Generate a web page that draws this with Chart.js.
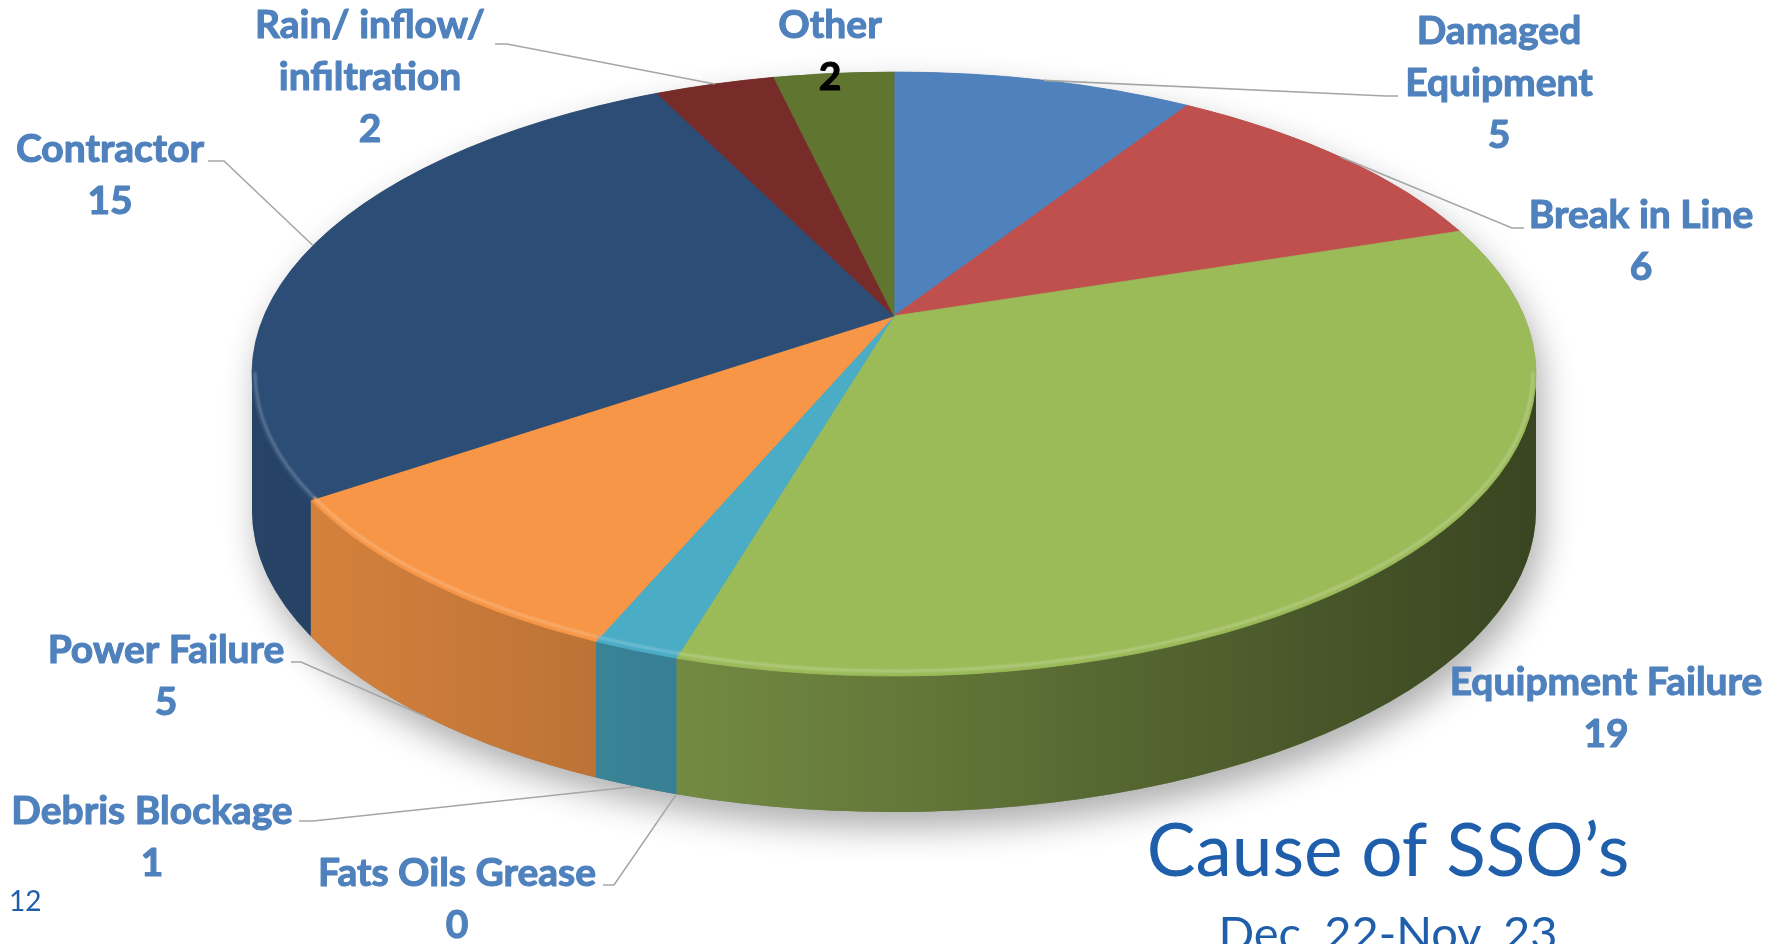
<!DOCTYPE html>
<html>
<head>
<meta charset="utf-8">
<title>Cause of SSO’s</title>
<script src="https://cdn.jsdelivr.net/npm/chart.js@4/dist/chart.umd.min.js"></script>
<style>
  html, body { margin: 0; padding: 0; background: #fff; overflow: hidden; }
  canvas { display: block; }
</style>
</head>
<body>
<canvas id="ssoChart" width="1783" height="944"></canvas>
<script>
// Categories (multi-line where the label wraps) and counts, clockwise from 12 o'clock
const causes = [
  ['Damaged', 'Equipment'],
  ['Break in Line'],
  ['Equipment Failure'],
  ['Fats Oils Grease'],
  ['Debris Blockage'],
  ['Power Failure'],
  ['Contractor'],
  ['Rain/ inflow/', 'infiltration'],
  ['Other']
];
const counts = [5, 6, 19, 0, 1, 5, 15, 2, 2];
const sliceColors = ['#4F81BD', '#C0504D', '#9BBB59', '#8064A2', '#4BACC6', '#F79646', '#2C4D75', '#772C2A', '#5F7530'];

const chartTitle = 'Cause of SSO’s';
const chartSubtitle = 'Dec. 22-Nov. 23';
const slideNumber = '12';

// 3D disc geometry: rim ellipse, wall height and perspective tilt
const PIE = { cx: 894, cy: 374, rx: 642, ry: 302, depth: 136, tilt: 0.192 };

// Where each data label sits (center x, first line y) and its leader knee/stub
const labelLayout = [
  { x: 1499, y: 31, leader: [[1386, 96], [1398, 96]] },
  { x: 1641, y: 215, leader: [[1512, 228], [1524, 228]] },
  { x: 1606, y: 682, leader: null },
  { x: 457, y: 873, leader: [[614, 885], [603, 885]] },
  { x: 152, y: 811, leader: [[313, 821], [299, 821]] },
  { x: 166, y: 650, leader: [[301, 662], [291, 662]] },
  { x: 110, y: 149, leader: [[224, 161], [208, 161]] },
  { x: 370, y: 25, leader: [[507, 44], [495, 44]] },
  { x: 830, y: 25, leader: null, valueColor: '#000000' }
];

const LABEL_COLOR = '#4F81BD';
const TITLE_COLOR = '#1E5EAB';
const LINE_HEIGHT = 52;

// Map a flat pie angle onto the tilted rim (unit ellipse coords)
function project(a) {
  const t = PIE.tilt;
  const u = Math.cos(a), v = Math.sin(a);
  const d = 1 - t * v;
  return { x: u * Math.sqrt(1 - t * t) / d, y: (v - t) / d };
}

function rimAngle(a) {
  const p = project(a);
  return Math.atan2(p.y, p.x);
}

function lighten(hex, k) {
  const n = parseInt(hex.slice(1), 16);
  const r = (n >> 16) & 255, g = (n >> 8) & 255, b = n & 255;
  const mix = c => Math.round(c + (255 - c) * k);
  return `rgb(${mix(r)}, ${mix(g)}, ${mix(b)})`;
}

// Slice spans on the rim, taken from the arc elements Chart.js laid out
function sliceSpans(chart) {
  const meta = chart.getDatasetMeta(0);
  return meta.data.map((arc, i) => {
    const { startAngle, endAngle } = arc.getProps(['startAngle', 'endAngle'], true);
    const ps = rimAngle(startAngle);
    let pe = rimAngle(endAngle);
    const empty = endAngle - startAngle < 1e-6;
    if (!empty) {
      while (pe <= ps) pe += Math.PI * 2;
    }
    return { i, startAngle, endAngle, ps, pe, empty, color: arc.options.backgroundColor };
  });
}

const pie3d = {
  id: 'pie3d',
  beforeDatasetsDraw(chart) {
    const ctx = chart.ctx;
    const { cx, cy, rx, ry, depth, tilt } = PIE;
    const spans = sliceSpans(chart);

    ctx.save();

    // soft drop shadow under the disc
    ctx.save();
    ctx.shadowColor = 'rgba(0, 0, 0, 0.32)';
    ctx.shadowBlur = 34;
    ctx.shadowOffsetX = 6;
    ctx.shadowOffsetY = 16;
    ctx.beginPath();
    ctx.ellipse(cx, cy, rx, ry, 0, Math.PI, Math.PI * 2);
    ctx.ellipse(cx, cy + depth, rx, ry, 0, 0, Math.PI);
    ctx.closePath();
    ctx.fillStyle = '#6b6b6b';
    ctx.fill();
    ctx.restore();

    // side walls, lit from the left
    const shade = ctx.createLinearGradient(cx - rx, 0, cx + rx, 0);
    shade.addColorStop(0, 'rgba(0, 0, 0, 0.12)');
    shade.addColorStop(0.35, 'rgba(0, 0, 0, 0.27)');
    shade.addColorStop(1, 'rgba(0, 0, 0, 0.63)');

    const frontParts = [];
    spans.forEach(s => {
      if (s.empty) return;
      for (let k = -1; k <= 1; k++) {
        const lo = Math.max(s.ps, Math.PI * 2 * k);
        const hi = Math.min(s.pe, Math.PI * 2 * k + Math.PI);
        if (hi <= lo) continue;
        frontParts.push({ lo, hi, color: s.color });
        ctx.beginPath();
        ctx.ellipse(cx, cy, rx, ry, 0, lo, hi);
        ctx.ellipse(cx, cy + depth, rx, ry, 0, hi, lo, true);
        ctx.closePath();
        ctx.fillStyle = s.color;
        ctx.fill();
        ctx.fillStyle = shade;
        ctx.fill();
      }
    });

    // top faces
    const apexY = cy - tilt * ry;
    spans.forEach(s => {
      if (s.empty) return;
      ctx.beginPath();
      ctx.moveTo(cx, apexY);
      ctx.ellipse(cx, cy, rx, ry, 0, s.ps, s.pe);
      ctx.closePath();
      ctx.fillStyle = s.color;
      ctx.fill();
      ctx.strokeStyle = s.color;
      ctx.lineWidth = 0.8;
      ctx.stroke();
    });

    // bevel highlight along the front rim
    ctx.save();
    ctx.filter = 'blur(1.2px)';
    frontParts.forEach(p => {
      ctx.beginPath();
      ctx.ellipse(cx, cy - 2, rx - 3, ry - 3, 0, p.lo, p.hi);
      ctx.strokeStyle = lighten(p.color, 0.25);
      ctx.lineWidth = 2.5;
      ctx.stroke();
    });
    ctx.restore();

    ctx.restore();
    return false;
  }
};

const sliceLabels = {
  id: 'sliceLabels',
  afterDraw(chart) {
    const ctx = chart.ctx;
    const { cx, cy, rx, ry, depth } = PIE;
    const spans = sliceSpans(chart);

    ctx.save();

    // leader lines from the rim to each label
    ctx.strokeStyle = '#A6A6A6';
    ctx.lineWidth = 1.6;
    spans.forEach(s => {
      const lay = labelLayout[s.i];
      if (!lay.leader) return;
      const p = project((s.startAngle + s.endAngle) / 2);
      const x = cx + rx * p.x;
      const y = cy + ry * p.y + (p.y > 0 ? depth : 0);
      ctx.beginPath();
      ctx.moveTo(x, y);
      lay.leader.forEach(pt => ctx.lineTo(pt[0], pt[1]));
      ctx.stroke();
    });

    // category + value text, with a thin outline for a heavier weight
    ctx.font = 'bold 39px Lato';
    ctx.textAlign = 'center';
    ctx.textBaseline = 'middle';
    ctx.lineWidth = 1.1;
    ctx.lineJoin = 'round';
    const drawText = (txt, x, y, color) => {
      ctx.fillStyle = color;
      ctx.strokeStyle = color;
      ctx.fillText(txt, x, y);
      ctx.strokeText(txt, x, y);
    };
    spans.forEach(s => {
      const lay = labelLayout[s.i];
      const lines = causes[s.i];
      lines.forEach((line, j) => drawText(line, lay.x, lay.y + j * LINE_HEIGHT, LABEL_COLOR));
      drawText(String(counts[s.i]), lay.x, lay.y + lines.length * LINE_HEIGHT, lay.valueColor || LABEL_COLOR);
    });

    // slide title block and number
    ctx.fillStyle = TITLE_COLOR;
    ctx.textBaseline = 'alphabetic';
    ctx.font = '73px Lato';
    ctx.fillText(chartTitle, 1388, 876);
    ctx.font = '47px Lato';
    ctx.fillText(chartSubtitle, 1388, 950);
    ctx.textAlign = 'left';
    ctx.font = '28px Lato';
    ctx.fillText(slideNumber, 9, 911);

    ctx.restore();
  }
};

new Chart(document.getElementById('ssoChart'), {
  type: 'pie',
  data: {
    labels: causes,
    datasets: [{
      data: counts,
      backgroundColor: sliceColors,
      borderWidth: 0
    }]
  },
  options: {
    responsive: false,
    animation: false,
    events: [],
    plugins: {
      legend: { display: false },
      tooltip: { enabled: false },
      title: { display: false }
    }
  },
  plugins: [pie3d, sliceLabels]
});
</script>
</body>
</html>
